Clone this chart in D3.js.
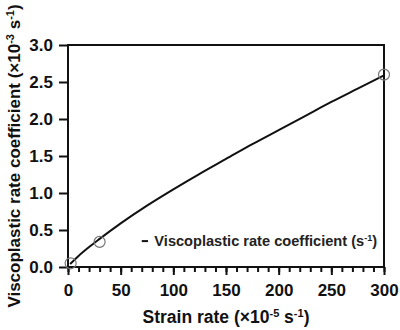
<!DOCTYPE html>
<html>
<head>
<meta charset="utf-8">
<script src="https://cdn.jsdelivr.net/npm/d3@7"></script>
<style>
  body { margin: 0; background: #fff; }
  text { font-family: "Liberation Sans", Arial, sans-serif; }
</style>
</head>
<body>
<svg id="chart" width="400" height="330"></svg>
<script>
// fitted curve
const curveX = [2, 10, 20, 30, 50, 75, 100, 125, 150, 175, 200, 225, 250, 275, 300];
const curveY = [0.04, 0.15, 0.27, 0.38, 0.59, 0.83, 1.05, 1.26, 1.46, 1.66, 1.85, 2.04, 2.23, 2.41, 2.59];
// measured points (circles)
const pointX = [2.5, 30, 300];
const pointY = [0.05, 0.34, 2.6];

const xTicks = [0, 50, 100, 150, 200, 250, 300];
const yTicks = [0, 0.5, 1.0, 1.5, 2.0, 2.5, 3.0];

const margin = { top: 45, right: 16, bottom: 63, left: 68 };
const width = 400 - margin.left - margin.right;
const height = 330 - margin.top - margin.bottom;

const svg = d3.select("#chart");
const g = svg.append("g").attr("transform", `translate(${margin.left},${margin.top})`);

const x = d3.scaleLinear().domain([0, 300]).range([0, width]);
const y = d3.scaleLinear().domain([0, 3]).range([height, 0]);

// frame
g.append("rect")
  .attr("width", width)
  .attr("height", height)
  .attr("fill", "none")
  .attr("stroke", "#111")
  .attr("stroke-width", 2);

// x minor ticks
g.append("g")
  .attr("transform", `translate(0,${height})`)
  .call(d3.axisBottom(x).tickValues(d3.range(0, 301, 10)).tickSize(5).tickFormat(""))
  .call((a) => a.select(".domain").remove())
  .selectAll("line").attr("stroke", "#111").attr("stroke-width", 2);

const xAxis = g.append("g")
  .attr("transform", `translate(0,${height})`)
  .call(d3.axisBottom(x).tickValues(xTicks).tickSize(8).tickPadding(9).tickFormat(d3.format("d")));
xAxis.select(".domain").remove();
xAxis.selectAll("line").attr("stroke", "#111").attr("stroke-width", 2);
xAxis.selectAll("text")
  .attr("font-size", 17).attr("font-weight", "bold").attr("fill", "#111")
  .attr("font-family", "'Liberation Sans', Arial, sans-serif");

const yAxis = g.append("g")
  .call(d3.axisLeft(y).tickValues(yTicks).tickSize(9).tickPadding(6).tickFormat(d3.format(".1f")));
yAxis.select(".domain").remove();
yAxis.selectAll("line").attr("stroke", "#111").attr("stroke-width", 2);
yAxis.selectAll("text")
  .attr("font-size", 17).attr("font-weight", "bold").attr("fill", "#111")
  .attr("font-family", "'Liberation Sans', Arial, sans-serif");

// curve
const line = d3.line()
  .x((d, i) => x(curveX[i]))
  .y((d) => y(d))
  .curve(d3.curveMonotoneX);

g.append("path")
  .datum(curveY)
  .attr("d", line)
  .attr("fill", "none")
  .attr("stroke", "#111")
  .attr("stroke-width", 2);

// points
g.selectAll("circle.pt")
  .data(pointY)
  .enter()
  .append("circle")
  .attr("class", "pt")
  .attr("cx", (d, i) => x(pointX[i]))
  .attr("cy", (d) => y(d))
  .attr("r", 5.5)
  .attr("fill", "none")
  .attr("stroke", "#777")
  .attr("stroke-width", 1.2);

// legend
g.append("line")
  .attr("x1", x(70) ).attr("x2", x(76))
  .attr("y1", y(0.35)).attr("y2", y(0.35))
  .attr("stroke", "#111").attr("stroke-width", 2);
const leg = g.append("text")
  .attr("x", x(82))
  .attr("y", y(0.35) + 5)
  .attr("font-size", 14.6)
  .attr("font-weight", "bold")
  .attr("fill", "#222");
leg.append("tspan").text("Viscoplastic rate coefficient (s");
leg.append("tspan").attr("font-size", 9).attr("dy", -5).text("-1");
leg.append("tspan").attr("dy", 5).text(")");

// axis titles
const xt = svg.append("text")
  .attr("x", 226)
  .attr("y", 323)
  .attr("text-anchor", "middle")
  .attr("font-size", 17.5)
  .attr("font-weight", "bold")
  .attr("fill", "#111");
xt.append("tspan").text("Strain rate (\u00d710");
xt.append("tspan").attr("font-size", 11).attr("dy", -6).text("-5");
xt.append("tspan").attr("dy", 6).text(" s");
xt.append("tspan").attr("font-size", 11).attr("dy", -6).text("-1");
xt.append("tspan").attr("dy", 6).text(")");

const yt = svg.append("text")
  .attr("transform", "translate(20,156) rotate(-90)")
  .attr("text-anchor", "middle")
  .attr("font-size", 17)
  .attr("font-weight", "bold")
  .attr("fill", "#111");
yt.append("tspan").text("Viscoplastic rate coefficient (\u00d710");
yt.append("tspan").attr("font-size", 11).attr("dy", -6).text("-3");
yt.append("tspan").attr("dy", 6).text(" s");
yt.append("tspan").attr("font-size", 11).attr("dy", -6).text("-1");
yt.append("tspan").attr("dy", 6).text(")");
</script>
</body>
</html>
